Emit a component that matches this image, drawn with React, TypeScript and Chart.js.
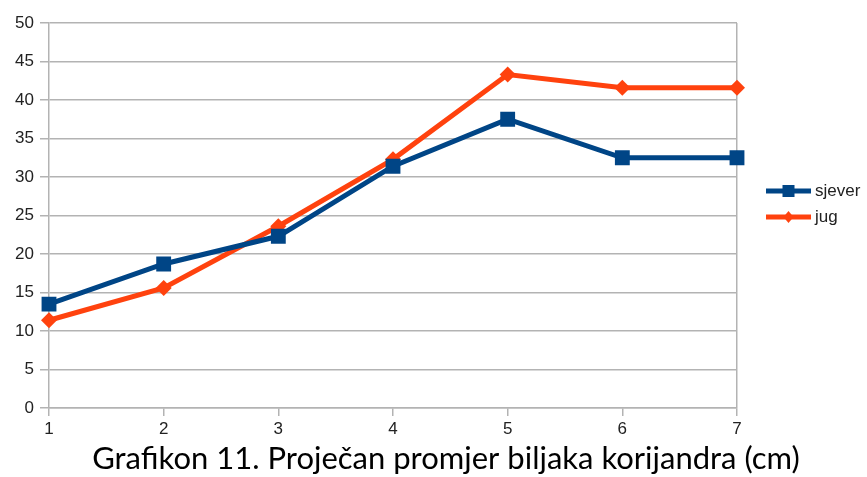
import React, { useEffect, useRef } from "react";
import { Chart, registerables } from "chart.js";

Chart.register(...registerables);

const categories = ["1", "2", "3", "4", "5", "6", "7"];
const sjever = [13.5, 18.7, 22.3, 31.4, 37.5, 32.5, 32.5];
const jug = [11.4, 15.6, 23.6, 32.3, 43.3, 41.6, 41.6];
const seriesNames = ["sjever", "jug"];
const titleText = "Grafikon 11. Proječan promjer biljaka korijandra (cm)";

const BLUE = "#004586";
const ORANGE = "#ff420e";
const GRID = "#b3b3b3";
const TICK_FONT = "'Liberation Sans', Arial, sans-serif";

const overlayPlugin = {
  id: "overlay",
  afterDraw(chart: any) {
    const ctx = chart.ctx as CanvasRenderingContext2D;
    const area = chart.chartArea;
    ctx.save();
    const items = [
      { name: seriesNames[0], color: BLUE, marker: "square" },
      { name: seriesNames[1], color: ORANGE, marker: "diamond" },
    ];
    const lx = area.right + 29;
    const ly0 = 191;
    items.forEach((it, i) => {
      const y = ly0 + i * 26;
      ctx.strokeStyle = it.color;
      ctx.fillStyle = it.color;
      ctx.lineWidth = 5;
      ctx.beginPath();
      ctx.moveTo(lx, y);
      ctx.lineTo(lx + 45, y);
      ctx.stroke();
      const cx = lx + 22.5;
      if (it.marker === "square") {
        ctx.fillRect(cx - 6, y - 6, 12, 12);
      } else {
        ctx.beginPath();
        ctx.moveTo(cx, y - 6);
        ctx.lineTo(cx + 5, y);
        ctx.lineTo(cx, y + 6);
        ctx.lineTo(cx - 5, y);
        ctx.closePath();
        ctx.fill();
      }
      ctx.fillStyle = "#222";
      ctx.font = `17px ${TICK_FONT}`;
      ctx.textBaseline = "middle";
      ctx.textAlign = "left";
      ctx.fillText(it.name, lx + 49, y);
    });
    ctx.fillStyle = "#000";
    ctx.font = "31px Lato, 'Open Sans', sans-serif";
    ctx.textAlign = "center";
    ctx.textBaseline = "alphabetic";
    ctx.fillText(titleText, 446, 469, 708);
    ctx.restore();
  },
};

export default function App() {
  const ref = useRef<HTMLCanvasElement>(null);
  useEffect(() => {
    document.body.style.margin = "0";
    const chart = new Chart(ref.current!, {
      type: "line",
      data: {
        labels: categories,
        datasets: [
          {
            label: seriesNames[0],
            data: sjever,
            borderColor: BLUE,
            backgroundColor: BLUE,
            borderWidth: 5,
            pointStyle: "rect",
            pointRadius: 10.5,
            pointBorderWidth: 0,
            tension: 0,
          },
          {
            label: seriesNames[1],
            data: jug,
            borderColor: ORANGE,
            backgroundColor: ORANGE,
            borderWidth: 5,
            pointStyle: "rectRot",
            pointRadius: 8,
            pointBorderWidth: 0,
            tension: 0,
          },
        ],
      },
      options: {
        responsive: false,
        animation: false,
        layout: { padding: { top: 23, right: 130, bottom: 39, left: 0 } },
        plugins: {
          legend: { display: false },
          tooltip: { enabled: false },
          title: { display: false },
        },
        scales: {
          x: {
            offset: false,
            afterFit: (s: any) => {
              s.height = 30;
            },
            grid: {
              color: (c: any) => (c.index === 6 ? GRID : "rgba(0,0,0,0)"),
              tickColor: GRID,
              tickLength: 8,
              lineWidth: 1.5,
            },
            border: { display: true, color: GRID, width: 1.5 },
            ticks: {
              color: "#222",
              font: { family: TICK_FONT, size: 17 },
              padding: 3,
              maxRotation: 0,
            },
          },
          y: {
            min: 0,
            max: 50,
            afterFit: (s: any) => {
              s.width = 49;
            },
            grid: {
              color: GRID,
              tickColor: GRID,
              tickLength: 9,
              lineWidth: 1.5,
            },
            border: { display: true, color: GRID, width: 1.5 },
            ticks: {
              stepSize: 5,
              color: "#222",
              font: { family: TICK_FONT, size: 17 },
              padding: 6,
            },
          },
        },
      },
      plugins: [overlayPlugin],
    });
    return () => chart.destroy();
  }, []);
  return (
    <div style={{ width: 867, height: 477, background: "#fff" }}>
      <canvas ref={ref} width={867} height={477} />
    </div>
  );
}
